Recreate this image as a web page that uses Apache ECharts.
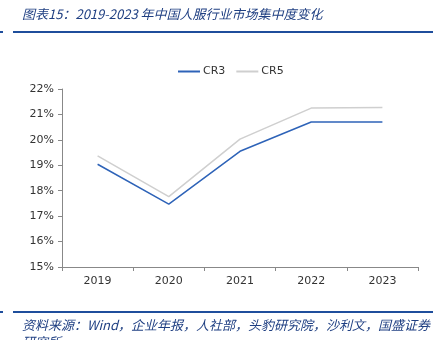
<!DOCTYPE html>
<html><head><meta charset="utf-8">
<script src="https://cdn.jsdelivr.net/npm/echarts@6/dist/echarts.min.js"></script>
<style>html,body{margin:0;padding:0;background:#fff;}#c{width:447px;height:340px;}</style>
</head><body><div id="c"></div>
<script>
var categories = ['2019', '2020', '2021', '2022', '2023'];
var cr3 = [19.04, 17.47, 19.55, 20.70, 20.70];
var cr5 = [19.37, 17.77, 20.03, 21.25, 21.27];
var yTicks = [15, 16, 17, 18, 19, 20, 21, 22];
var titleText = '图表15：2019-2023 年中国人服行业市场集中度变化';
var sourceText = '资料来源：Wind，企业年报，人社部，头豹研究院，沙利文，国盛证券\n研究所';

var chart = echarts.init(document.getElementById('c'));
var axisFont = 'Tahoma, "DejaVu Sans", "Noto Sans", sans-serif';
chart.setOption({
  animation: false,
  backgroundColor: '#fff',
  legend: {
    top: 66, left: 178, padding: 0,
    itemWidth: 22, itemHeight: 2, itemGap: 11,
    icon: 'rect',
    textStyle: { fontSize: 11, color: '#333', fontFamily: axisFont, padding: [0, 0, 0, -2] },
    data: ['CR3', 'CR5']
  },
  grid: { left: 62, right: 29, top: 89, bottom: 73 },
  xAxis: {
    type: 'category', data: categories, boundaryGap: true,
    axisLine: { lineStyle: { color: '#888' } },
    axisTick: { show: true, lineStyle: { color: '#888' }, length: 4 },
    axisLabel: { color: '#333', fontSize: 11, fontFamily: axisFont, margin: 9 }
  },
  yAxis: {
    type: 'value', min: yTicks[0], max: yTicks[yTicks.length - 1], interval: 1,
    splitLine: { show: false },
    axisLine: { show: true, lineStyle: { color: '#888' } },
    axisTick: { show: true, lineStyle: { color: '#888' }, length: 4 },
    axisLabel: { color: '#333', fontSize: 11, fontFamily: axisFont, margin: 8, formatter: function (v) { return v + '%'; } }
  },
  series: [
    { name: 'CR3', type: 'line', data: cr3, symbol: 'none', lineStyle: { color: '#2E63B8', width: 1.5 }, itemStyle: { color: '#2E63B8' } },
    { name: 'CR5', type: 'line', data: cr5, symbol: 'none', lineStyle: { color: '#CFCFCF', width: 1.5 }, itemStyle: { color: '#CFCFCF' } }
  ],
  graphic: [
    { type: 'text', left: 22, top: 8, style: { text: titleText, fill: '#1F3F82', font: 'italic 13px "Noto Sans CJK SC", sans-serif' } },
    { type: 'rect', shape: { x: 13, y: 31, width: 420, height: 2 }, style: { fill: '#1F4E9C' } },
    { type: 'rect', shape: { x: 0, y: 31, width: 3, height: 2 }, style: { fill: '#1F4E9C' } },
    { type: 'rect', shape: { x: 13, y: 311, width: 420, height: 2 }, style: { fill: '#1F4E9C' } },
    { type: 'rect', shape: { x: 0, y: 311, width: 3, height: 2 }, style: { fill: '#1F4E9C' } },
    { type: 'text', left: 22, top: 317, style: { text: sourceText, fill: '#1F3F82', font: 'italic 13px "Noto Sans CJK SC", sans-serif', lineHeight: 17 } }
  ]
});
</script></body></html>
